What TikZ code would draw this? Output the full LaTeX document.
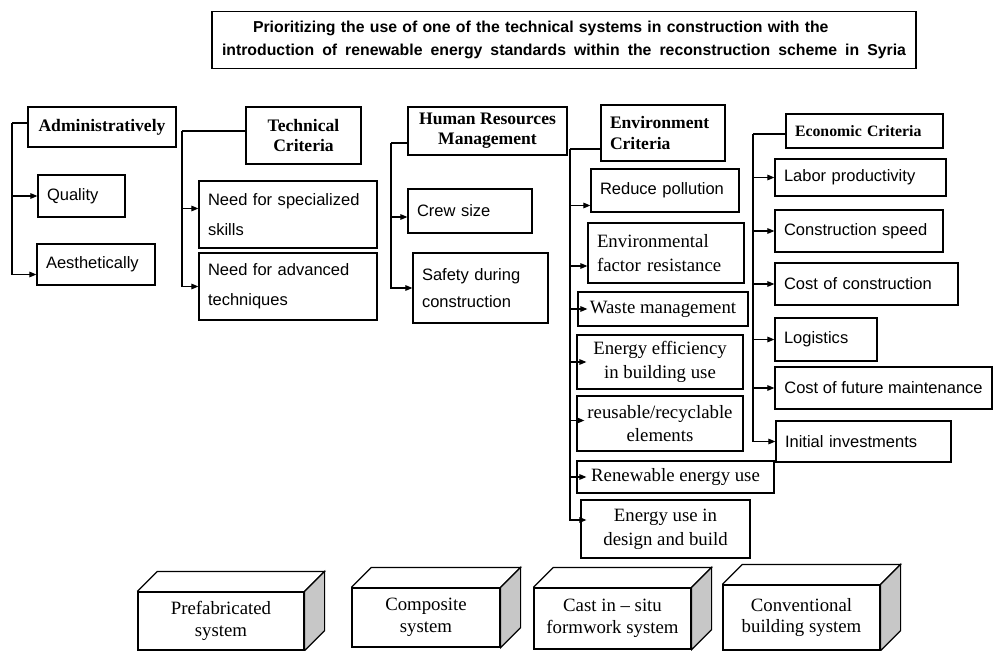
\documentclass[tikz,border=0pt]{standalone}
\usepackage{fontspec}
\setmainfont{Liberation Serif}
\setsansfont{Liberation Sans}
\usetikzlibrary{calc,arrows.meta}
\newdimen\pxu
\pxu=0.02cm

\begin{document}
\begin{tikzpicture}[x=0.02cm,y=-0.02cm,>={Triangle[length=4pt,width=3.2pt]},
  cbox/.style={draw,line width=0.7pt,inner sep=0pt},
  sbox/.style={cbox,font=\sffamily\fontsize{9.4}{11}\selectfont,align=left,inner xsep=9\pxu},
  rbox/.style={cbox,font=\fontsize{10.7}{13.5}\selectfont,align=center},
  hbox/.style={cbox,font=\bfseries\fontsize{10}{11.5}\selectfont,align=center},
  cube/.style={cbox,fill=white,font=\fontsize{10.7}{12.5}\selectfont,align=center},
  sideface/.style={draw,line width=0.7pt,fill=black!22},
  link/.style={line width=0.6pt}]
\useasboundingbox (0,0) rectangle (993,651);

\node[cbox,minimum width=704\pxu,minimum height=57\pxu,text width=684\pxu,align=left,
  font=\sffamily\bfseries\fontsize{9}{13}\selectfont] (title) at (564,40)
  {\hspace*{31\pxu}Prioritizing the use of one of the technical systems in construction with the\\\hbox to 684\pxu{\spaceskip=0.28em plus 1fil introduction of renewable energy standards within the reconstruction scheme in Syria}};

\node[hbox,minimum width=148\pxu,minimum height=40\pxu] (adm) at (102,127) {Administratively};
\node[sbox,text width=69\pxu,minimum height=42\pxu] (qual) at (81.5,196) {Quality};
\node[sbox,text width=100\pxu,minimum height=41\pxu] (aest) at (96,264.5) {Aesthetically};

\node[hbox,minimum width=115\pxu,minimum height=57\pxu] (tech) at (303.5,135.5) {Technical\\Criteria};
\node[sbox,text width=160\pxu,minimum height=67\pxu,font=\sffamily\fontsize{9.4}{17}\selectfont] (spec) at (288,214.5) {Need for specialized\\skills};
\node[sbox,text width=160\pxu,minimum height=67\pxu,font=\sffamily\fontsize{9.4}{17}\selectfont] (adv) at (288,286.5) {Need for advanced\\techniques};

\node[hbox,minimum width=159\pxu,minimum height=48\pxu] (hrm) at (487.5,131) {Human Resources\\Management};
\node[sbox,text width=106\pxu,minimum height=44\pxu] (crew) at (470,211) {Crew size};
\node[sbox,text width=117\pxu,minimum height=70\pxu,font=\sffamily\fontsize{9.4}{15.5}\selectfont] (safe) at (480.5,288) {Safety during\\construction};

\node[hbox,text width=106\pxu,align=left,inner xsep=9\pxu,minimum height=56\pxu] (env) at (663,133) {Environment\\Criteria};
\node[sbox,text width=130\pxu,minimum height=43\pxu] (poll) at (665,190.5) {Reduce pollution};
\node[rbox,text width=138\pxu,align=left,inner xsep=9\pxu,minimum height=60\pxu] (fact) at (666,253) {Environmental\\factor resistance};
\node[rbox,minimum width=170\pxu,minimum height=34\pxu] (waste) at (663,309) {Waste management};
\node[rbox,minimum width=166\pxu,minimum height=54\pxu] (eff) at (660,362) {Energy efficiency\\in building use};
\node[rbox,minimum width=166\pxu,minimum height=55\pxu] (reuse) at (660,423.5) {reusable/recyclable\\elements};
\node[rbox,minimum width=197\pxu,minimum height=32\pxu] (renew) at (675.5,477) {Renewable energy use};
\node[rbox,minimum width=169\pxu,minimum height=58\pxu] (design) at (665.5,529) {Energy use in\\design and build};

\node[hbox,text width=139\pxu,align=left,inner xsep=9\pxu,minimum height=34\pxu,font=\bfseries\fontsize{9}{11}\selectfont] (eco) at (864.5,131) {Economic Criteria};
\node[sbox,text width=153\pxu,minimum height=37\pxu] (labor) at (860.5,177.5) {Labor productivity};
\node[sbox,text width=150\pxu,minimum height=42\pxu] (speed) at (859,231) {Construction speed};
\node[sbox,text width=165\pxu,minimum height=42\pxu] (cost) at (866.5,284) {Cost of construction};
\node[sbox,text width=84\pxu,minimum height=43\pxu] (logi) at (826,339.5) {Logistics};
\node[cbox,font=\sffamily\fontsize{9.4}{11}\selectfont,minimum width=217\pxu,minimum height=42\pxu] (maint) at (883.5,388) {Cost of future maintenance};
\node[sbox,text width=157\pxu,minimum height=41\pxu] (init) at (863.5,441.5) {Initial investments};

\node[cube,minimum width=166\pxu,minimum height=58\pxu] (pre) at (221,621) {Prefabricated\\system};
\node[cube,minimum width=148\pxu,minimum height=59\pxu] (comp) at (426,617.5) {Composite\\system};
\node[cube,minimum width=157\pxu,minimum height=61\pxu] (cast) at (612.5,618.5) {Cast in -- situ\\formwork system};
\node[cube,minimum width=157\pxu,minimum height=65\pxu] (conv) at (801.5,617.5) {Conventional\\building system};

\foreach \n in {pre,comp,cast,conv}{
  \draw[line width=0.7pt] (\n.north west) -- ++(20,-20) -- ($(\n.north east)+(20,-20)$) -- (\n.north east);
  \draw[sideface] (\n.north east) -- ++(20,-20) -- ($(\n.south east)+(20,-20)$) -- (\n.south east) -- cycle;
}

\coordinate (ab) at (12,123);
\draw[link] (adm.west |- ab) -- (ab);
\draw[link,->] (ab) |- (qual.west);
\draw[link,->] (ab) |- ($(aest.west)+(0,10)$);

\coordinate (tb) at (182,131);
\draw[link] (tech.west |- tb) -- (tb);
\draw[link,->] (tb) |- ($(spec.west)+(0,-6)$);
\draw[link,->] (tb) |- (adv.west);

\coordinate (hb) at (391,143);
\draw[link] (hrm.west |- hb) -- (hb);
\draw[link,->] (hb) |- ($(crew.west)+(0,6)$);
\draw[link,->] (hb) |- (safe.west);

\coordinate (eb) at (570,149);
\draw[link] (env.west |- eb) -- (eb);
\draw[link,->] (eb) |- ($(poll.west)+(0,15)$);
\draw[link,->] (eb) |- ($(fact.west)+(0,13)$);
\draw[link,->] (eb) |- ($(waste.west)+(10,0)$);
\draw[link,->] (eb) |- ($(eff.west)+(10,0)$);
\draw[link,->] (eb) |- ($(reuse.west)+(8,-3)$);
\draw[link,->] (eb) |- ($(renew.west)+(10,0)$);
\draw[link,->] (eb) |- ($(design.west)+(6,-9)$);

\coordinate (cb) at (753,134);
\draw[link] (eco.west |- cb) -- (cb);
\foreach \n in {labor,speed,cost,logi,maint,init}
  \draw[link,->] (cb) |- (\n.west);

\end{tikzpicture}
\end{document}
